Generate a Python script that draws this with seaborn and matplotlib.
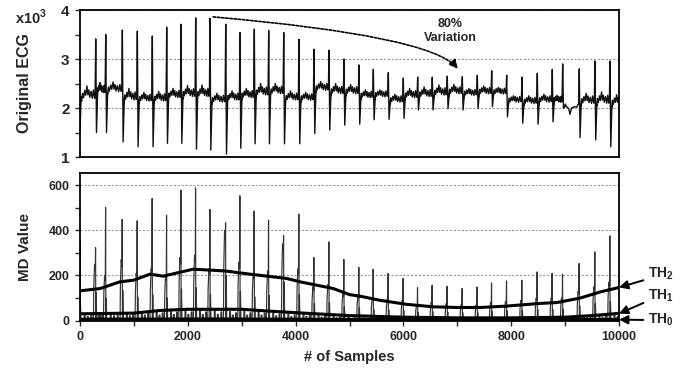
import matplotlib
matplotlib.use("Agg")
import matplotlib.pyplot as plt
from matplotlib.ticker import MultipleLocator
import seaborn as sns

# R-peak positions (sample index)
beat_x = [291, 477, 785, 1063, 1341, 1608, 1874, 2146, 2412, 2703, 2968, 3233,
          3500, 3779, 4062, 4341, 4619, 4897, 5175, 5441, 5719, 5997, 6264, 6535,
          6813, 7092, 7370, 7637, 7915, 8199, 8483, 8761, 8954, 9262, 9553, 9832]

# original ECG (x10^3)
r_peak = [3.41, 3.50, 3.59, 3.57, 3.47, 3.65, 3.71, 3.84, 3.83, 3.71, 3.54, 3.61,
          3.58, 3.54, 3.40, 3.20, 3.18, 3.00, 2.88, 2.79, 2.72, 2.61, 2.63, 2.63,
          2.65, 2.64, 2.67, 2.76, 2.67, 2.63, 2.71, 2.79, 2.90, 2.80, 2.96, 2.96]
s_trough = [1.50, 1.50, 1.31, 1.21, 1.21, 1.28, 1.28, 1.16, 1.14, 1.06, 1.18, 1.27,
            1.27, 1.27, 1.27, 1.48, 1.55, 1.65, 1.67, 1.76, 1.77, 1.79, 1.96, 1.96,
            1.99, 1.96, 1.99, 2.03, 1.82, 1.69, 1.67, 1.72, 2.00, 1.40, 1.35, 1.21]
ecg_start = 1.55
base_first = 2.23
base_after = [2.35, 2.37, 2.20, 2.18, 2.18, 2.25, 2.27, 2.27, 2.16, 2.20, 2.25, 2.30,
              2.33, 2.20, 2.20, 2.40, 2.33, 2.33, 2.25, 2.27, 2.16, 2.25, 2.27, 2.30,
              2.33, 2.30, 2.33, 2.33, 2.16, 2.13, 2.16, 2.16, 2.10, 2.13, 2.13, 2.10]
t_first = 0.2
t_wave = [0.15, 0.14, 0.18, 0.12, 0.14, 0.13, 0.17, 0.18, 0.12, 0.13, 0.13, 0.18,
          0.15, 0.13, 0.10, 0.12, 0.15, 0.13, 0.10, 0.08, 0.10, 0.13, 0.14, 0.15,
          0.13, 0.08, 0.10, 0.07, 0.07, 0.10, 0.10, 0.08, -0.25, 0.15, 0.18, 0.15]

# MD value: spike, side pulse and inter-beat ripple per beat (first at sample 0)
md_x = [0] + beat_x
md_peak = [350, 324, 502, 449, 443, 542, 468, 579, 589, 493, 434, 554, 486, 446,
           378, 472, 280, 349, 271, 236, 228, 209, 187, 147, 157, 152, 142, 149,
           167, 176, 179, 216, 209, 206, 253, 305, 376]
md_pulse = [140, 250, 200, 270, 210, 230, 200, 280, 290, 230, 400, 260, 210, 220,
            340, 230, 150, 160, 120, 110, 100, 95, 90, 70, 80, 75, 70, 70,
            80, 85, 90, 100, 100, 100, 130, 150, 170]
md_noise = [30, 35, 35, 35, 40, 40, 45, 45, 45, 45, 40, 40, 40, 35, 30, 30, 25, 20,
            15, 12, 10, 10, 8, 8, 8, 8, 8, 8, 8, 10, 10, 10, 12, 15, 20, 25, 30]

# thresholds
th2_x = [0, 370, 740, 990, 1300, 1540, 2100, 2700, 3150, 3830, 4080, 4700, 5000,
         5200, 5560, 6060, 6550, 7000, 7420, 7900, 8530, 8850, 9280, 9650, 10000]
th2 = [132, 142, 172, 179, 206, 197, 228, 220, 206, 187, 172, 142, 115,
       108, 90, 72, 61, 58, 58, 64, 76, 80, 100, 127, 147]
th1_x = [0, 1000, 1500, 2000, 3000, 3500, 4000, 5000, 6000, 7000, 8000, 9000, 9500, 10000]
th1 = [30, 33, 45, 50, 50, 42, 35, 22, 15, 12, 12, 15, 22, 32]
th0_x = [0, 2500, 5000, 7500, 10000]
th0 = [6, 7, 5, 4, 5]

# baseline ripple shape inside one beat interval: (fraction, offset, share of T wave)
RIPPLE = [(0.10, -0.09, 0.0), (0.16, 0.03, 0.2), (0.22, -0.04, 0.1), (0.30, 0.03, 0.5),
          (0.36, -0.03, 0.3), (0.44, 0.02, 1.0), (0.50, -0.04, 0.4), (0.56, 0.04, 0.5),
          (0.62, -0.05, 0.2), (0.70, 0.03, 0.4), (0.78, -0.05, 0.1), (0.85, 0.04, 0.5),
          (0.92, -0.03, 0.0)]


def ecg_line():
    xs, ys = [0, 20], [ecg_start, base_first]
    bases = [base_first] + base_after
    tws = [t_first] + t_wave
    for i in range(len(bases)):
        x0 = 0 if i == 0 else beat_x[i - 1]
        x1 = beat_x[i] if i < len(beat_x) else x0 + 280
        if i > 0:
            xs += [x0, x0 + 14, x0 + 35]
            ys += [r_peak[i - 1], s_trough[i - 1], bases[i] - 0.05]
        for f, a, b in RIPPLE:
            px = x0 + f * (x1 - x0)
            if px > 25:
                xs.append(px)
                ys.append(bases[i] + a + b * tws[i])
        xs.append(x1 - 12)
        ys.append(bases[i] - 0.02)
    return xs, ys


def md_line():
    xs, ys = [], []
    for j, x in enumerate(md_x):
        p, q, n = md_peak[j], md_pulse[j], md_noise[j]
        x1 = md_x[j + 1] if j + 1 < len(md_x) else x + 280
        xs += [x - 42, x - 36, x - 22, x - 8, x - 3, x + 2, x + 8, x + 18]
        ys += [3, 0.6 * q, q, 0.9 * q, p, 3, 0.5 * q, 3]
        w = x1 - x
        for f, k in [(0.3, 1.0), (0.5, 0.6), (0.72, 0.85)]:
            c = x + f * w
            xs += [c - 10, c - 8, c + 8, c + 10]
            ys += [3, n * k, n * k, 3]
    return xs, ys


sns.set_theme(style="ticks")
plt.rcParams["font.family"] = ["Liberation Sans", "DejaVu Sans"]
plt.rcParams["font.weight"] = "bold"
plt.rcParams["mathtext.fontset"] = "custom"
plt.rcParams["mathtext.rm"] = "Liberation Sans:bold"
plt.rcParams["mathtext.bf"] = "Liberation Sans:bold"

fig = plt.figure(figsize=(6.9, 3.73), dpi=100)
ax1 = fig.add_axes([0.116, 0.579, 0.7812, 0.3941])
ax2 = fig.add_axes([0.116, 0.1394, 0.7812, 0.3968])

grid_kw = dict(color="#999999", linestyle=(0, (2, 1.5)), linewidth=0.8)

# top panel
ex, ey = ecg_line()
sns.lineplot(x=ex, y=ey, ax=ax1, sort=False, estimator=None, color="#111111", linewidth=1.0)
ax1.set_xlim(0, 10000)
ax1.set_ylim(1, 4)
ax1.yaxis.set_major_locator(MultipleLocator(1))
ax1.yaxis.set_minor_locator(MultipleLocator(0.5))
ax1.yaxis.grid(True, which="major", **grid_kw)
ax1.set_axisbelow(True)
ax1.tick_params(axis="y", which="both", direction="out", length=3.5, width=1, labelsize=11, pad=4)
ax1.tick_params(axis="x", which="both", bottom=False, labelbottom=False)
ax1.set_ylabel("Original ECG", fontsize=11.5, fontweight="bold")
ax1.yaxis.set_label_coords(-0.089, 0.5)
fig.text(31 / 690, 1 - 17 / 373, r"x10$^{\mathbf{3}}$", fontsize=10.5, fontweight="bold",
         ha="center", va="center")

ax1.annotate("", xy=(7010, 2.80), xytext=(2470, 3.86),
             arrowprops=dict(arrowstyle="-|>", linestyle=(0, (1.5, 1)), lw=1.2, color="black",
                             connectionstyle="angle3,angleA=-5,angleB=-50", mutation_scale=13,
                             shrinkA=0, shrinkB=0))
ax1.text(6864, 3.57, "80%\nVariation", fontsize=9, fontweight="bold",
         ha="center", va="center", linespacing=1.15)

# bottom panel
mx, my = md_line()
sns.lineplot(x=mx, y=my, ax=ax2, sort=False, estimator=None, color="#333333", linewidth=0.85)
for tx, ty in [(th2_x, th2), (th1_x, th1), (th0_x, th0)]:
    sns.lineplot(x=tx, y=ty, ax=ax2, sort=False, estimator=None, color="black", linewidth=2.2)
ax2.set_xlim(0, 10000)
ax2.set_ylim(-2, 655)
ax2.yaxis.set_major_locator(MultipleLocator(200))
ax2.yaxis.set_minor_locator(MultipleLocator(100))
ax2.xaxis.set_major_locator(MultipleLocator(2000))
ax2.xaxis.set_minor_locator(MultipleLocator(1000))
ax2.yaxis.grid(True, which="major", **grid_kw)
ax2.set_axisbelow(True)
ax2.tick_params(axis="both", which="both", direction="out", length=3.5, width=1, labelsize=9, pad=4)
ax2.set_ylabel("MD Value", fontsize=11, fontweight="bold")
ax2.yaxis.set_label_coords(-0.089, 0.5)
ax2.set_xlabel("# of Samples", fontsize=10.5, fontweight="bold", labelpad=5)

for ax in (ax1, ax2):
    for s in ax.spines.values():
        s.set_color("black")
        s.set_linewidth(1.3)

arrow_kw = dict(arrowstyle="-|>", lw=1.4, color="black", mutation_scale=13, shrinkA=1, shrinkB=0)
ax2.annotate(r"TH$_{\mathbf{2}}$", xy=(10000, 147), xytext=(648, 99), textcoords="figure pixels",
             fontsize=10, fontweight="bold", va="center", ha="left", annotation_clip=False,
             arrowprops=dict(relpos=(0, 0.2), **arrow_kw))
ax2.annotate(r"TH$_{\mathbf{1}}$", xy=(10000, 31), xytext=(648, 77), textcoords="figure pixels",
             fontsize=10, fontweight="bold", va="center", ha="left", annotation_clip=False,
             arrowprops=dict(relpos=(0, 0.2), **arrow_kw))
ax2.annotate(r"TH$_{\mathbf{0}}$", xy=(10000, 4), xytext=(648, 53), textcoords="figure pixels",
             fontsize=10, fontweight="bold", va="center", ha="left", annotation_clip=False,
             arrowprops=dict(relpos=(0, 0.5), **arrow_kw))

fig.savefig("out.png", dpi=100)
